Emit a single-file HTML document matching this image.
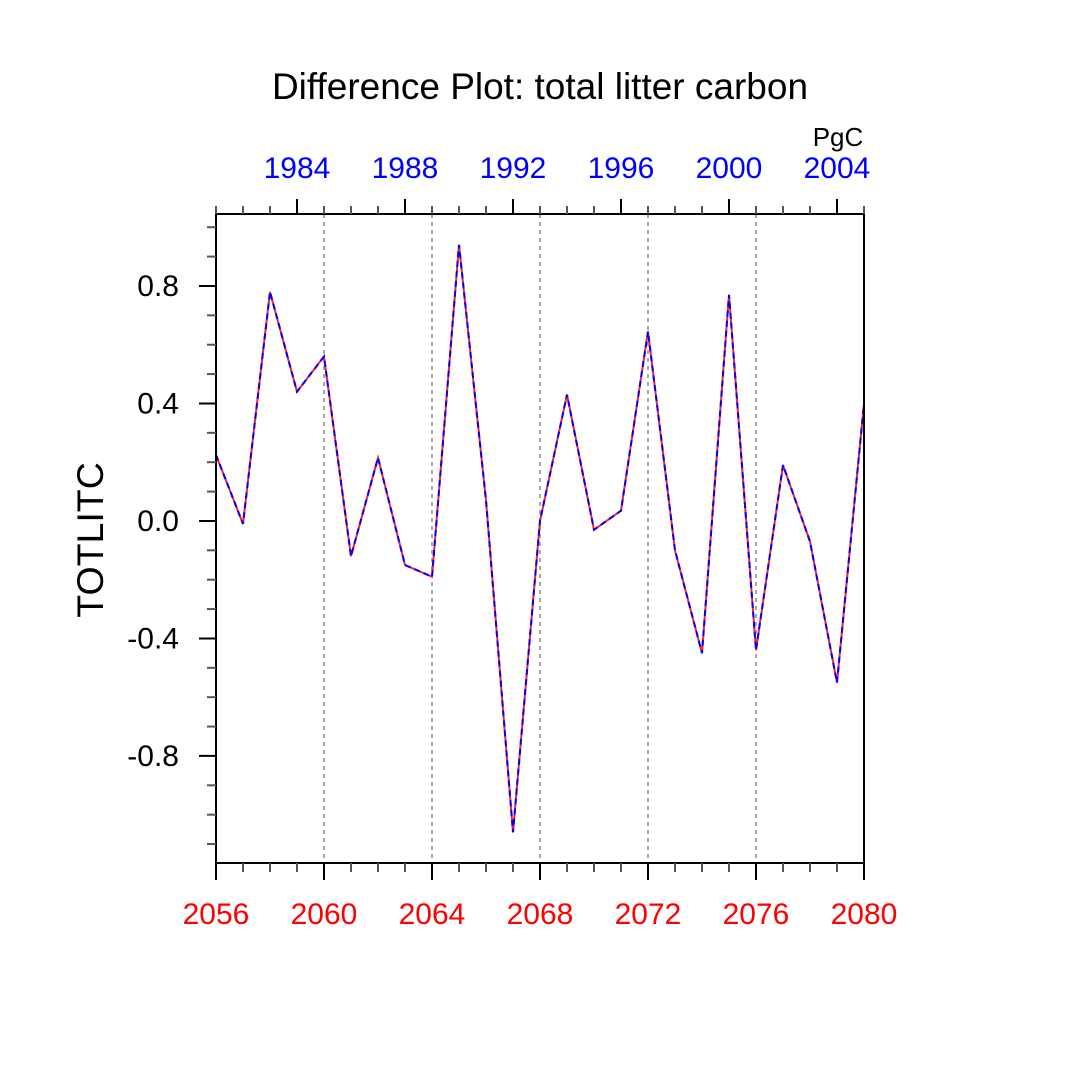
<!DOCTYPE html>
<html><head><meta charset="utf-8"><style>
html,body{margin:0;padding:0;background:#fff;}
svg{display:block;font-family:"Liberation Sans",Arial,sans-serif;}
</style></head><body>
<svg id="chart" width="1080" height="1080" viewBox="0 0 1080 1080">
<text x="540" y="99" text-anchor="middle" font-size="37">Difference Plot: total litter carbon</text>
<text x="838" y="146" text-anchor="middle" font-size="26">PgC</text>
<text transform="translate(103,540) rotate(-90)" text-anchor="middle" font-size="37.5">TOTLITC</text>
<g id="grid"></g>
<g id="series"></g>
<g id="axes"></g>
</svg>
<script>
const years = [2056,2057,2058,2059,2060,2061,2062,2063,2064,2065,2066,2067,2068,2069,2070,2071,2072,2073,2074,2075,2076,2077,2078,2079,2080];
const values = [0.225,-0.01,0.78,0.44,0.56,-0.12,0.215,-0.15,-0.19,0.94,0.07,-1.06,0.0,0.43,-0.03,0.035,0.645,-0.1,-0.45,0.77,-0.44,0.19,-0.07,-0.55,0.4];
const bottomTicks = [2056,2060,2064,2068,2072,2076,2080];
const topTicks = [1984,1988,1992,1996,2000,2004];
const yTicks = [-0.8,-0.4,0.0,0.4,0.8];
const yOffset = 75;

const L=216,R=864,T=214,B=863;
const xMin=2056,xMax=2080,yMin=-1.1645,yMax=1.045;
const xs=v=>L+(v-xMin)/(xMax-xMin)*(R-L);
const ys=v=>B-(v-yMin)/(yMax-yMin)*(B-T);
const NS="http://www.w3.org/2000/svg";
function mk(tag,attrs,parent){const e=document.createElementNS(NS,tag);for(const k in attrs)e.setAttribute(k,attrs[k]);parent.appendChild(e);return e;}
const grid=document.getElementById('grid'),ser=document.getElementById('series'),ax=document.getElementById('axes');

bottomTicks.forEach(t=>{if(t===xMin||t===xMax)return;
 const g=mk('line',{x1:xs(t),x2:xs(t),y1:T,y2:B,stroke:'#aaa','stroke-width':2,'stroke-dasharray':'4 4'},grid);
 
 
});

const pts=years.map((y,i)=>xs(y)+','+ys(values[i])).join(' ');
const red=mk('polyline',{points:pts,fill:'none',stroke:'#ff2020','stroke-width':2},ser);


const blue=mk('polyline',{points:pts,fill:'none',stroke:'#0000ff','stroke-width':2,'stroke-dasharray':'6 4'},ser);



const frame=mk('rect',{x:L,y:T,width:R-L,height:B-T,fill:'none',stroke:'#000','stroke-width':2},ax);



for(let yr=xMin;yr<=xMax;yr++){
 const major=(yr-xMin)%4===0;
 const x=xs(yr);
 mk('line',{x1:x,x2:x,y1:B,y2:B+(major?17:9),stroke:major?'#000':'#555','stroke-width':2},ax);
 const tm=((yr-yOffset)%4===0);
 mk('line',{x1:x,x2:x,y1:T,y2:T-(tm?15:8),stroke:tm?'#000':'#555','stroke-width':2},ax);
}
bottomTicks.forEach(t=>{
 const e=mk('text',{x:xs(t),y:924,'text-anchor':'middle','font-size':30,fill:'#ff0000'},ax);e.textContent=t;
 
 
});
topTicks.forEach(t=>{
 const e=mk('text',{x:xs(t+yOffset),y:178,'text-anchor':'middle','font-size':30,fill:'#0000ff'},ax);e.textContent=t;
 
 
});
for(let k=-11;k<=10;k++){
 const v=k/10;const major=(k%4===0);
 mk('line',{x1:L-(major?17:9),x2:L,y1:ys(v),y2:ys(v),stroke:major?'#000':'#555','stroke-width':2},ax);
}
yTicks.forEach(v=>{
 const e=mk('text',{x:179,y:ys(v)+10,'text-anchor':'end','font-size':30},ax);e.textContent=v.toFixed(1);
 
 
});
</script>
</body></html>
